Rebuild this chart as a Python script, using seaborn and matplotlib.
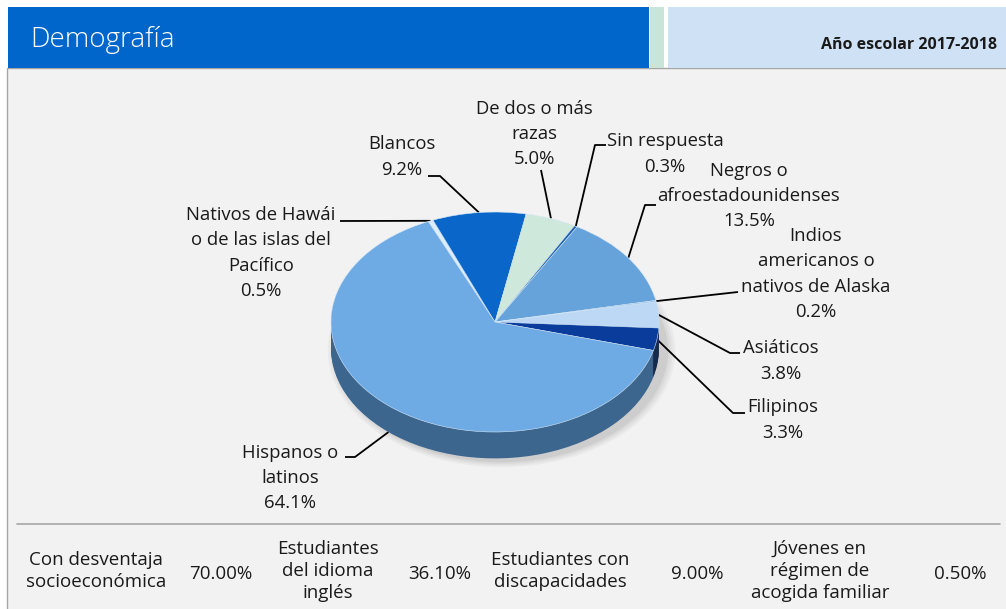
import colorsys
import numpy as np
import matplotlib
matplotlib.use("Agg")
import matplotlib.pyplot as plt
import matplotlib.colors as mcolors
from matplotlib.patches import Rectangle, Ellipse
import seaborn as sns

# ---- data (clockwise from the top of the pie) ----
groups = ["Nativos de Hawái\no de las islas del\nPacífico", "Blancos",
          "De dos o más\nrazas", "Sin respuesta", "Negros o\nafroestadounidenses",
          "Indios\namericanos o\nnativos de Alaska", "Asiáticos", "Filipinos",
          "Hispanos o\nlatinos"]
shares = [0.5, 9.2, 5.0, 0.3, 13.5, 0.2, 3.8, 3.3, 64.1]
slice_colors = ["#dcedfb", "#0a66c8", "#cfe8dc", "#1c5fae", "#66a3db",
                "#8fc0ec", "#bcd8f4", "#0a3c9c", "#6eaae3"]

stat_labels = ["Con desventaja\nsocioeconómica", "Estudiantes\ndel idioma\ninglés",
               "Estudiantes con\ndiscapacidades", "Jóvenes en\nrégimen de\nacogida familiar"]
stat_values = [70.00, 36.10, 9.00, 0.50]

title = "Demografía"
year_label = "Año escolar 2017-2018"

# label blocks (centre) and leader elbows, in pixels
label_xy = [(261, 253), (402, 157), (534, 134), (665, 154), (749, 196),
            (816, 274), (781, 361), (783, 420), (290, 478)]
leader_pts = [[(340, 221)], [(428, 176), (440, 176)], [(541, 170)],
              [(606, 145), (595, 145)], [(656, 205), (645, 205)], [(738, 292)],
              [(740, 353), (730, 353)], [(745, 413), (733, 413)],
              [(345, 457), (355, 457)]]
stat_label_x = [96, 328, 560, 820]
stat_value_x = [221, 440, 697, 960]

sns.set_theme(style="white")
plt.rcParams["font.family"] = ["Open Sans", "DejaVu Sans"]

W, H = 1006, 609
fig = plt.figure(figsize=(W / 100, H / 100), dpi=100)
fig.patch.set_facecolor("white")

bg = fig.add_axes([0, 0, 1, 1])
bg.set_xlim(0, W)
bg.set_ylim(H, 0)
bg.axis("off")


def block(x, yc, text, step, **kw):
    # one text per line so the line pitch matches the original
    lines = text.split("\n")
    y0 = yc - step * (len(lines) - 1) / 2
    for i, ln in enumerate(lines):
        bg.text(x, y0 + i * step, ln, ha="center", va="center", **kw)


# panel + header bands
bg.add_patch(Rectangle((7.5, 68), W, H, facecolor="#f2f2f2", edgecolor="#a6a6a6", lw=1))
bg.add_patch(Rectangle((8, 7), 641, 61, facecolor="#0066cc", lw=0))
bg.add_patch(Rectangle((650, 7), 14, 61, facecolor="#c9e4d9", lw=0))
bg.add_patch(Rectangle((668, 7), W - 668, 61, facecolor="#cfe2f5", lw=0))
bg.text(30, 40, title, color="white", fontsize=20, fontweight="light",
        va="center", ha="left")
bg.text(997, 45, year_label, fontsize=11.5, fontweight="bold", ha="right",
        va="center", color="#1a1a1a")
bg.plot([17, 1000], [524, 524], color="#a6a6a6", lw=1.2)

# ---- squashed 3D-ish pie ----
cx, cy, rx, ry = 495, 322, 164, 110
depth = 0.24
ax = fig.add_axes([(cx - rx) / W, (H - (cy + ry * (1 + depth))) / H,
                   2 * rx / W, ry * (2 + depth) / H])


def darker(c, f=0.6, fs=0.6):
    h, l, s = colorsys.rgb_to_hls(*mcolors.to_rgb(c))
    return colorsys.hls_to_rgb(h, l * f, s * fs)


side_colors = [darker(c) for c in slice_colors]

# soft shadow
for k, a in enumerate([0.03, 0.03, 0.04, 0.05]):
    grow = 0.12 - k * 0.03
    ax.add_patch(Ellipse((0.04, -depth - 0.02), 2 + grow, 2 + grow,
                         facecolor="black", alpha=a, lw=0, clip_on=False, zorder=0))

for off in np.linspace(-depth, -0.01, 18):
    w_side, _ = ax.pie(shares, colors=side_colors, startangle=114, counterclock=False,
                       center=(0, off), wedgeprops=dict(linewidth=0))
    for w in w_side:
        w.set_clip_on(False)
wedges, _ = ax.pie(shares, colors=slice_colors, startangle=114, counterclock=False,
                   wedgeprops=dict(linewidth=0.4, edgecolor="#d6e8f8"))
for w in wedges:
    w.set_clip_on(False)
ax.set_xlim(-1, 1)
ax.set_ylim(-1 - depth, 1)
ax.set_aspect("auto")
ax.axis("off")


def edge_point(w):
    th = np.deg2rad((w.theta1 + w.theta2) / 2)
    x, y = np.cos(th), np.sin(th)
    if y < -0.3:
        y -= depth
    disp = ax.transData.transform((x, y))
    return bg.transData.inverted().transform(disp)


for w, name, val, (tx, ty), pts in zip(wedges, groups, shares, label_xy, leader_pts):
    block(tx, ty, f"{name}\n{val:.1f}%", 25.3, fontsize=13.3, color="#1a1a1a")
    path = pts + [tuple(edge_point(w))]
    xs, ys = zip(*path)
    bg.plot(xs, ys, color="black", lw=1.3, solid_capstyle="butt")

# ---- bottom stats row ----
for lab, val, lx, vx in zip(stat_labels, stat_values, stat_label_x, stat_value_x):
    block(lx, 571, lab, 22.5, fontsize=13.5, color="#1a1a1a")
    bg.text(vx, 574, f"{val:.2f}%", ha="center", va="center", fontsize=13.5,
            color="#1a1a1a")

fig.savefig("out.png", dpi=100, facecolor=fig.get_facecolor())
